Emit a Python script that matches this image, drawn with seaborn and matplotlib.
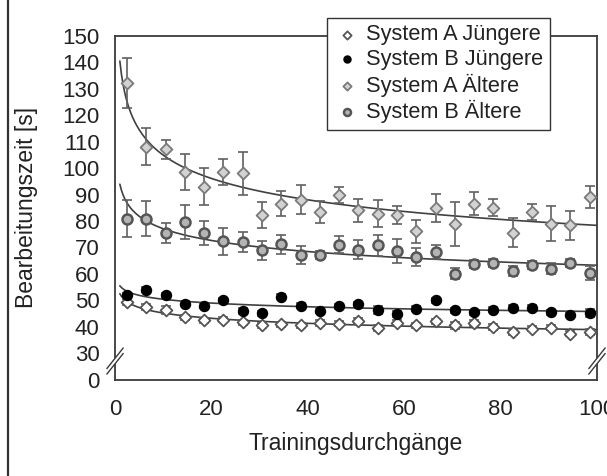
import numpy as np
import pandas as pd
import matplotlib
matplotlib.use("Agg")
import matplotlib.pyplot as plt
from matplotlib.lines import Line2D
from matplotlib.patches import Polygon
import seaborn as sns

# Training block (x) and mean processing time per group (y, seconds)
durchgang = [2.5, 6.5, 10.5, 14.5, 18.5, 22.5, 26.5, 30.5, 34.5, 38.5, 42.5, 46.5, 50.5,
             54.5, 58.5, 62.5, 66.5, 70.5, 74.5, 78.5, 82.5, 86.5, 90.5, 94.5, 98.5]

a_juengere = [49.4, 47.5, 46.3, 43.7, 42.5, 42.7, 41.8, 40.6, 41.0, 40.6, 41.5, 41.2, 42.3,
              39.6, 41.5, 40.6, 42.2, 40.6, 41.5, 40.0, 38.1, 39.3, 39.7, 37.5, 38.1]
b_juengere = [51.9, 54.1, 51.9, 48.8, 48.1, 50.0, 46.0, 45.2, 51.5, 48.0, 46.1, 47.8, 48.5,
              46.3, 45.0, 46.9, 50.0, 46.3, 45.6, 46.5, 47.3, 47.3, 45.6, 44.7, 45.2]
a_aeltere = [132.0, 108.0, 107.0, 98.5, 93.0, 98.5, 98.0, 82.2, 86.6, 88.0, 83.4, 89.7, 84.0,
             82.8, 82.2, 76.1, 84.9, 78.8, 86.6, 85.0, 75.5, 83.4, 79.0, 78.4, 89.1]
b_aeltere = [80.9, 80.9, 75.5, 79.6, 75.5, 72.3, 72.1, 68.9, 71.2, 67.0, 67.3, 71.1, 69.2,
             70.8, 68.7, 66.4, 68.3, 60.1, 63.9, 64.1, 61.1, 63.3, 62.0, 64.1, 60.4]

# Standard errors
err_a_juengere = [1.0, 1.2, 1.5, 1.0, 1.0, 1.0, 1.0, 1.0, 1.0, 1.0, 1.0, 1.0, 1.0,
                  1.2, 1.0, 1.0, 1.0, 1.2, 1.0, 1.0, 1.0, 1.0, 1.0, 1.0, 1.0]
err_b_juengere = [1.0, 1.0, 1.0, 1.0, 1.0, 1.0, 1.0, 1.0, 1.0, 1.0, 1.0, 1.0, 1.0,
                  1.5, 1.2, 1.0, 1.0, 1.0, 1.0, 1.0, 1.0, 1.0, 1.0, 1.0, 1.6]
err_a_aeltere = [9.5, 7.0, 3.5, 6.7, 7.0, 4.8, 8.0, 5.0, 4.7, 5.4, 4.0, 3.0, 4.4,
                 5.2, 3.5, 4.4, 5.4, 8.2, 4.3, 3.2, 5.5, 3.0, 6.6, 5.5, 4.1]
err_b_aeltere = [7.0, 6.5, 3.7, 6.5, 4.5, 5.0, 3.8, 3.5, 3.5, 3.4, 1.5, 3.2, 3.5,
                 4.0, 4.5, 3.5, 2.5, 2.0, 1.5, 1.5, 2.0, 1.5, 2.0, 1.5, 2.5]

gruppen = ["System A Jüngere", "System B Jüngere", "System A Ältere", "System B Ältere"]
werte = [a_juengere, b_juengere, a_aeltere, b_aeltere]
fehler = [err_a_juengere, err_b_juengere, err_a_aeltere, err_b_aeltere]

stil = {
    "System A Jüngere": dict(marker="D", face="white", edge="#555555", s=36, lw=1.3),
    "System B Jüngere": dict(marker="o", face="black", edge="black", s=52, lw=1.0),
    "System A Ältere": dict(marker="D", face="#d2d2d2", edge="#7a7a7a", s=36, lw=1.3),
    "System B Ältere": dict(marker="o", face="#b4b4b4", edge="#555555", s=52, lw=1.8),
}

df = pd.DataFrame({
    "Trainingsdurchgänge": np.tile(durchgang, len(gruppen)),
    "Bearbeitungszeit": np.concatenate(werte),
    "Fehler": np.concatenate(fehler),
    "Gruppe": np.repeat(gruppen, len(durchgang)),
})

sns.set_theme(style="white")
plt.rcParams["font.family"] = ["Liberation Sans", "DejaVu Sans"]

fig = plt.figure(figsize=(6.07, 4.76), dpi=100)
ax = fig.add_axes([0.1895, 0.2017, 0.794, 0.7237])

# Power-law trend per group (least squares in log-log space)
x_fit = np.linspace(1, 100, 300)
for g in gruppen:
    sub = df[df["Gruppe"] == g]
    b, log_a = np.polyfit(np.log(sub["Trainingsdurchgänge"]), np.log(sub["Bearbeitungszeit"]), 1)
    trend = pd.DataFrame({"x": x_fit, "y": np.exp(log_a) * x_fit ** b})
    sns.lineplot(data=trend, x="x", y="y", ax=ax, color="#404040", lw=1.2,
                 legend=False, zorder=2)

# Error bars and markers
for g in gruppen:
    sub = df[df["Gruppe"] == g]
    st = stil[g]
    ax.errorbar(sub["Trainingsdurchgänge"], sub["Bearbeitungszeit"], yerr=sub["Fehler"],
                fmt="none", ecolor="#606060", elinewidth=1.2, capsize=3.4, capthick=1.2,
                zorder=3)
    sns.scatterplot(data=sub, x="Trainingsdurchgänge", y="Bearbeitungszeit", ax=ax,
                    marker=st["marker"], color=st["face"], edgecolor=st["edge"],
                    s=st["s"], linewidth=st["lw"], label=g, zorder=4)

# Broken y axis: 0 is placed one grid step below 30
def vorwaerts(y):
    y = np.asarray(y, dtype=float)
    return np.where(y >= 30, y, 20 + y / 3.0)

def rueckwaerts(v):
    v = np.asarray(v, dtype=float)
    return np.where(v >= 30, v, (v - 20) * 3.0)

ax.set_yscale("function", functions=(vorwaerts, rueckwaerts))
ax.set_ylim(0, 150)
ax.set_xlim(0, 100)
ax.set_yticks([0, 30, 40, 50, 60, 70, 80, 90, 100, 110, 120, 130, 140, 150])
ax.set_yticklabels(["0", "30", "40", "50", "60", "70", "80", "90", "100", "110",
                    "120", "130", "140", "150"])
ax.set_xticks([0, 20, 40, 60, 80, 100])
ax.set_xticklabels(["0", "20", "40", "60", "80", "100"])
ax.minorticks_off()

for sp in ax.spines.values():
    sp.set_visible(True)
    sp.set_color("#3a3a3a")
    sp.set_linewidth(1.3)

ax.tick_params(axis="both", direction="out", length=3, width=1, color="#3a3a3a",
               labelcolor="#222222", labelsize=16)
ax.tick_params(axis="x", pad=11)
ax.tick_params(axis="y", pad=8)

ax.set_xlabel("Trainingsdurchgänge", fontsize=16.5, color="#222222")
ax.xaxis.set_label_coords(0.5, -0.15)
ax.set_ylabel("Bearbeitungszeit [s]", fontsize=16.5, color="#222222", va="center")
ax.yaxis.set_label_coords(-0.183, 0.50)

# Axis-break marks on both vertical spines
def bruch(x0):
    yc, dx, dy, gap = 0.055, 0.017, 0.03, 0.016
    poly = Polygon([[x0 - dx, yc - dy - gap / 2], [x0 + dx, yc + dy - gap / 2],
                    [x0 + dx, yc + dy + gap / 2], [x0 - dx, yc - dy + gap / 2]],
                   closed=True, transform=ax.transAxes, facecolor="white",
                   edgecolor="none", clip_on=False, zorder=6)
    ax.add_patch(poly)
    for off in (-gap / 2, gap / 2):
        ax.add_line(Line2D([x0 - dx, x0 + dx], [yc - dy + off, yc + dy + off],
                           transform=ax.transAxes, color="#3a3a3a", lw=1.0,
                           clip_on=False, zorder=7))

bruch(0.0)
bruch(1.0)

leg = ax.legend(loc="upper left", bbox_to_anchor=(0.44, 1.051), fontsize=15.7,
                frameon=True, fancybox=False, edgecolor="#333333", framealpha=1,
                borderpad=0.3, labelspacing=0.16, handletextpad=0.3,
                handlelength=1.2, markerscale=0.7, borderaxespad=0)
leg.get_frame().set_linewidth(1.0)
leg.set_zorder(10)
for t in leg.get_texts():
    t.set_color("#222222")

# Left frame edge of the figure
fig.add_artist(Line2D([7.5 / 607, 7.5 / 607], [0, 1], transform=fig.transFigure,
                      color="#333333", lw=1.6))

fig.savefig("out.png", dpi=100)
